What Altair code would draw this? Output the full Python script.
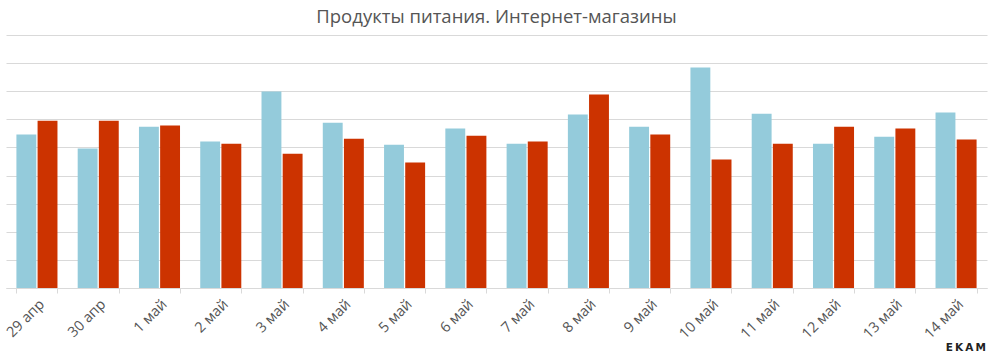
import altair as alt
import pandas as pd

categories = ["29 апр", "30 апр", "1 май", "2 май", "3 май", "4 май", "5 май", "6 май",
              "7 май", "8 май", "9 май", "10 май", "11 май", "12 май", "13 май", "14 май"]
series_names = ["Прошлый период", "Текущий период"]
blue_values = [5.46, 4.96, 5.74, 5.21, 6.99, 5.88, 5.10, 5.67, 5.13, 6.17, 5.74, 7.84, 6.20, 5.13, 5.38, 6.24]
red_values = [5.95, 5.95, 5.78, 5.13, 4.78, 5.31, 4.46, 5.42, 5.21, 6.88, 5.46, 4.57, 5.13, 5.74, 5.67, 5.28]
grid_values = [0, 1, 2, 3, 4, 5, 6, 7, 8, 9]
colors = ["#94CBDB", "#CC3300"]

rows = []
for i, c in enumerate(categories):
    rows.append({"day": c, "series": series_names[0], "value": blue_values[i], "order": i})
    rows.append({"day": c, "series": series_names[1], "value": red_values[i], "order": i})
df = pd.DataFrame(rows)

FONT = "Open Sans"

bars = alt.Chart(df).mark_bar().encode(
    x=alt.X("day:N", sort=categories, title=None,
            scale=alt.Scale(paddingInner=0.33, paddingOuter=0.17),
            axis=alt.Axis(labelAngle=-45, tickBand="extent", domainColor="#d9d9d9",
                          tickColor="#d9d9d9", tickSize=5, labelColor="#555555",
                          labelFontSize=14.5, labelFont=FONT, labelPadding=4, grid=False)),
    xOffset=alt.XOffset("series:N", sort=series_names, scale=alt.Scale(paddingInner=0.06)),
    y=alt.Y("value:Q", title=None, scale=alt.Scale(domain=[0, 9], nice=False),
            axis=alt.Axis(labels=False, ticks=False, domain=False,
                          values=grid_values, gridColor="#d9d9d9")),
    color=alt.Color("series:N", sort=series_names,
                    scale=alt.Scale(domain=series_names, range=colors), legend=None),
)

logo = alt.Chart(pd.DataFrame({"t": ["E\u2009K\u2009A\u2009M"]})).mark_text(
    align="right", baseline="alphabetic", font="DejaVu Sans", fontWeight="bold",
    fontSize=10.5, color="#222222"
).encode(text="t:N", x=alt.value(980), y=alt.value(316))

chart = alt.layer(bars, logo).properties(
    width=981, height=253,
    autosize=alt.AutoSizeParams(type="none"),
    padding={"left": 6, "top": 35, "right": 7, "bottom": 70},
    title=alt.TitleParams("Продукты питания. Интернет-магазины", font=FONT, fontSize=18.5,
                          fontWeight="normal", color="#555555", anchor="middle", offset=9),
).configure_view(stroke=None)

chart.save("out.html", embed_options={"renderer": "svg", "actions": False})
